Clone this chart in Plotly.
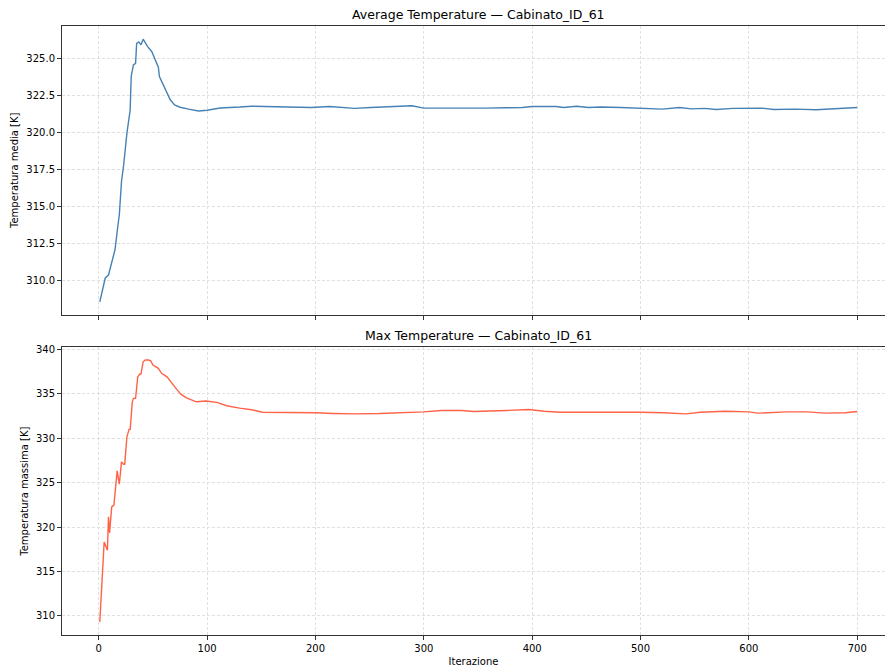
import plotly.graph_objects as go
from plotly.subplots import make_subplots

# ---- data ----
iter_avg = [1, 4, 6, 9, 13, 15, 18, 19, 21, 23,
            26, 29, 30, 32, 34, 35, 37, 39, 41, 45,
            49, 52, 55, 56, 59, 62, 66, 70, 75, 83,
            92, 100, 112, 130, 141, 153, 164, 183, 196, 213,
            225, 236, 251, 270, 289, 300, 312, 327, 342, 357,
            376, 391, 400, 410, 422, 429, 441, 452, 463, 482,
            500, 509, 520, 536, 547, 559, 570, 585, 600, 612,
            623, 643, 662, 681, 700]
temp_avg = [308.6, 309.6, 310.2, 310.4, 311.5, 312.1, 313.9, 314.45, 316.7, 317.8,
            319.95, 321.5, 323.8, 324.55, 324.66, 326.0, 326.1, 325.9, 326.28, 325.8,
            325.44, 324.9, 324.4, 323.76, 323.3, 322.87, 322.2, 321.86, 321.7, 321.57,
            321.45, 321.5, 321.65, 321.71, 321.77, 321.75, 321.73, 321.71, 321.68, 321.75,
            321.68, 321.62, 321.68, 321.73, 321.8, 321.64, 321.64, 321.59, 321.59, 321.64,
            321.66, 321.68, 321.75, 321.73, 321.75, 321.68, 321.77, 321.68, 321.71, 321.68,
            321.64, 321.62, 321.57, 321.68, 321.59, 321.62, 321.55, 321.62, 321.64, 321.64,
            321.55, 321.57, 321.53, 321.59, 321.68]

iter_max = [1, 3, 5, 8, 9, 10, 12, 14, 16, 17,
            19, 21, 23, 24, 26, 28, 29, 31, 32, 34,
            36, 38, 39, 41, 43, 46, 48, 50, 55, 58,
            63, 67, 72, 76, 81, 90, 99, 109, 118, 130,
            141, 151, 168, 187, 200, 217, 236, 259, 278, 300,
            316, 335, 346, 369, 376, 397, 411, 426, 445, 483,
            500, 521, 542, 555, 578, 600, 608, 635, 654, 670,
            689, 700]
temp_max = [309.33, 313.27, 318.33, 317.4, 321.15, 319.35, 322.28, 322.47, 325.28, 326.33,
            324.83, 327.34, 327.08, 327.08, 330.16, 330.99, 331.0, 334.1, 334.48, 334.48,
            336.91, 337.22, 337.22, 338.6, 338.8, 338.8, 338.7, 338.23, 337.86, 337.3,
            336.91, 336.24, 335.5, 334.93, 334.55, 334.1, 334.18, 334.03, 333.65, 333.38,
            333.2, 332.93, 332.93, 332.93, 332.86, 332.78, 332.74, 332.78, 332.86, 332.97,
            333.12, 333.12, 333.0, 333.04, 333.12, 333.23, 333.04, 332.93, 332.93, 333.0,
            332.93, 332.86, 332.74, 332.93, 333.04, 332.97, 332.82, 332.97, 332.97, 332.82,
            332.86, 333.0]

title_avg = "Average Temperature — Cabinato_ID_61"
title_max = "Max Temperature — Cabinato_ID_61"
ylabel_avg = "Temperatura media [K]"
ylabel_max = "Temperatura massima [K]"
xlabel = "Iterazione"

FONT = "DejaVu Sans"
H = 668
MT, MB = 26, 33
PH = H - MT - MB

def frac(py):
    return (H - MB - py) / PH

fig = make_subplots(rows=2, cols=1, shared_xaxes=False)

fig.add_trace(go.Scatter(x=iter_avg, y=temp_avg, mode="lines",
                         line=dict(color="#4682b4", width=1.4), showlegend=False),
              row=1, col=1)
fig.add_trace(go.Scatter(x=iter_max, y=temp_max, mode="lines",
                         line=dict(color="#ff6347", width=1.4), showlegend=False),
              row=2, col=1)

xcommon = dict(range=[-33.9, 725.6], domain=[0, 1], tickmode="array",
               tickvals=[0, 100, 200, 300, 400, 500, 600, 700],
               showline=True, mirror=True, linecolor="#333333", linewidth=1,
               ticks="outside", ticklen=4, tickcolor="#333333", tickwidth=1,
               showgrid=True, gridcolor="#e0e0e0", griddash="3px,2px", gridwidth=0.8,
               zeroline=False, tickfont=dict(family=FONT, size=10, color="#000000"))
ycommon = dict(showline=True, mirror=False, linecolor="#333333", linewidth=1,
               ticks="outside", ticklen=4, tickcolor="#333333", tickwidth=1,
               showgrid=True, gridcolor="#e0e0e0", griddash="3px,2px", gridwidth=0.8,
               zeroline=False, tickfont=dict(family=FONT, size=10, color="#000000"))

fig.update_layout(
    width=885, height=H,
    margin=dict(l=62, r=0, t=MT, b=MB),
    paper_bgcolor="white", plot_bgcolor="white",
    font=dict(family=FONT, size=10, color="#000000"),
    xaxis=dict(**xcommon, showticklabels=False, anchor="y"),
    xaxis2=dict(**xcommon, anchor="y2",
                title=dict(text=xlabel, standoff=4, font=dict(family=FONT, size=10))),
    yaxis=dict(**ycommon, domain=[frac(314.5), 1.0], range=[307.74, 327.17],
               tickvals=[310.0, 312.5, 315.0, 317.5, 320.0, 322.5, 325.0],
               ticktext=["310.0", "312.5", "315.0", "317.5", "320.0", "322.5", "325.0"],
               title=dict(text=ylabel_avg, standoff=5, font=dict(family=FONT, size=10))),
    yaxis2=dict(**ycommon, domain=[0, frac(347.3)], range=[307.86, 340.23],
                tickvals=[310, 315, 320, 325, 330, 335, 340],
                title=dict(text=ylabel_max, standoff=5, font=dict(family=FONT, size=10))),
)

tx = (478.5 - 62) / 823
fig.add_annotation(text=title_avg, xref="paper", yref="paper", x=tx, y=1.0,
                   xanchor="center", yanchor="bottom", yshift=2, showarrow=False,
                   font=dict(family=FONT, size=12.5, color="#000000"))
fig.add_annotation(text=title_max, xref="paper", yref="paper", x=tx, y=frac(347.3),
                   xanchor="center", yanchor="bottom", yshift=2, showarrow=False,
                   font=dict(family=FONT, size=12.5, color="#000000"))

fig.write_html("out.html")
